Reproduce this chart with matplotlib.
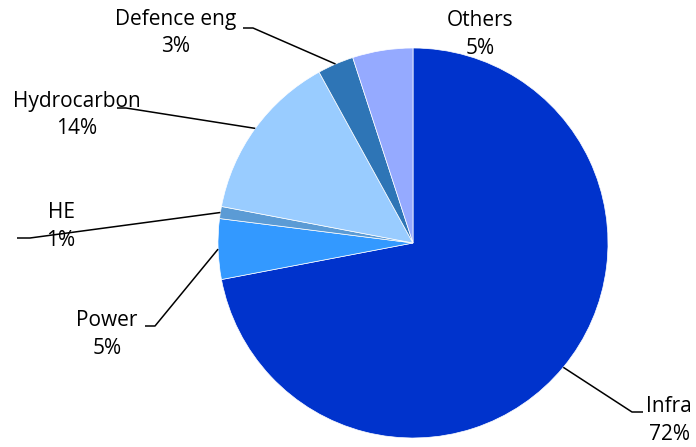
import numpy as np
import matplotlib
matplotlib.use("Agg")
import matplotlib.pyplot as plt

# ---- data ----
categories = ["Infra", "Power", "HE", "Hydrocarbon", "Defence eng", "Others"]
shares = [72, 5, 1, 14, 3, 5]
colors = ["#0033CC", "#3399FF", "#5B9BD5", "#99CCFF", "#2E75B6", "#95AAFF"]

# ---- layout (pixel coords, y down) ----
W, H = 696, 447
cx, cy, R = 413, 243, 195
# label centre (x, y of first line), elbow point, end point of horizontal segment (None = no leader)
label_layout = {
    "Infra":       ((669, 406), (632, 412), (643, 412)),
    "Power":       ((107, 321), (155, 326), (145, 326)),
    "HE":          ((61, 212), (30, 238), (17, 238)),
    "Hydrocarbon": ((77, 101), (126, 108), (117, 108)),
    "Defence eng": ((176, 19), (253, 28), (243, 28)),
    "Others":      ((480, 20), None, None),
}

plt.rcParams['font.family'] = ['Open Sans', 'DejaVu Sans']

fig = plt.figure(figsize=(W / 100, H / 100), dpi=100)
ax = fig.add_axes([0, 0, 1, 1])

wedges, _ = ax.pie(shares, colors=colors, startangle=90, counterclock=False,
                   center=(cx, H - cy), radius=R,
                   wedgeprops=dict(edgecolor="white", linewidth=0.5))
ax.set_xlim(0, W)
ax.set_ylim(0, H)
ax.set_aspect("equal")
ax.axis("off")

fs = 15
for w, name, val in zip(wedges, categories, shares):
    (tx, ty), elbow, end = label_layout[name]
    ax.text(tx, H - ty, name, ha="center", va="center", fontsize=fs, color="#000000")
    ax.text(tx, H - ty - 28, f"{val}%", ha="center", va="center", fontsize=fs, color="#000000")
    if elbow is not None:
        mid = np.deg2rad((w.theta1 + w.theta2) / 2)
        px = cx + R * np.cos(mid)
        py = (H - cy) + R * np.sin(mid)
        ax.plot([px, elbow[0], end[0]], [py, H - elbow[1], H - end[1]],
                color="black", lw=1.1, solid_capstyle="butt")

fig.savefig("out.png", dpi=100)
